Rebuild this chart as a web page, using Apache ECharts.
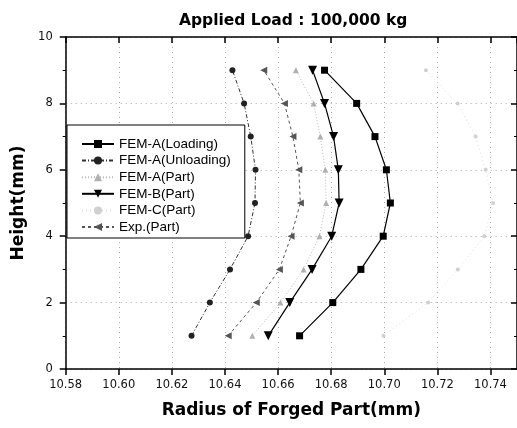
<!DOCTYPE html>
<html>
<head>
<meta charset="utf-8">
<script src="https://cdn.jsdelivr.net/npm/echarts@6/dist/echarts.min.js"></script>
<style>html,body{margin:0;padding:0;background:#fff}#c{width:517px;height:428px}</style>
</head>
<body>
<div id="c"></div>
<script>
const heights = [1, 2, 3, 4, 5, 6, 7, 8, 9];
const femALoading   = [10.6681, 10.6806, 10.6912, 10.6996, 10.7023, 10.7008, 10.6965, 10.6896, 10.6775];
const femAUnloading = [10.6274, 10.6343, 10.6419, 10.6487, 10.6513, 10.6515, 10.6497, 10.6472, 10.6428];
const femAPart      = [10.6503, 10.6609, 10.6696, 10.6756, 10.6781, 10.6778, 10.6759, 10.6734, 10.6667];
const femBPart      = [10.6563, 10.6644, 10.6728, 10.6802, 10.6830, 10.6827, 10.6809, 10.6775, 10.6730];
const femCPart      = [10.6997, 10.7165, 10.7277, 10.7377, 10.7410, 10.7382, 10.7344, 10.7276, 10.7157];
const expPart       = [10.6412, 10.6518, 10.6605, 10.6649, 10.6684, 10.6678, 10.6656, 10.6624, 10.6546];
const xTickLabels = ['10.58','10.60','10.62','10.64','10.66','10.68','10.70','10.72','10.74'];
const yTickLabels = ['0','2','4','6','8','10'];

const pairs = arr => arr.map((x, i) => [x, heights[i]]);
const FONT = 'Liberation Sans, Arial, sans-serif';
const BOLD = 'DejaVu Sans, sans-serif';
const TICKF = 'DejaVu Sans, sans-serif';

const chart = echarts.init(document.getElementById('c'), null, {renderer: 'canvas'});
const gridLine = {show: true, lineStyle: {color: '#aaa', type: [1, 4], width: 1}};
const option = {
  animation: false,
  backgroundColor: '#fff',
  title: {
    text: 'Applied Load : 100,000 kg',
    left: 174, top: 8,
    textStyle: {fontFamily: BOLD, fontWeight: 'bold', fontSize: 15.5, color: '#000'}
  },
  grid: {left: 65.7, right: -3, top: 37, bottom: 59, containLabel: false},
  legend: {
    orient: 'vertical',
    left: 67, top: 125,
    padding: [12, 14, 4, 14],
    itemWidth: 32, itemHeight: 10, itemGap: 2.6,
    backgroundColor: '#fff',
    borderColor: '#000', borderWidth: 1,
    textStyle: {fontFamily: FONT, fontSize: 13.5, color: '#000'},
    data: ['FEM-A(Loading)', 'FEM-A(Unloading)', 'FEM-A(Part)', 'FEM-B(Part)', 'FEM-C(Part)', 'Exp.(Part)']
  },
  xAxis: [{
    type: 'value', position: 'bottom', min: 10.58, max: 10.75, interval: 0.02,
    name: 'Radius of Forged Part(mm)', nameLocation: 'middle', nameGap: 33,
    nameTextStyle: {fontFamily: BOLD, fontWeight: 'bold', fontSize: 17, color: '#000'},
    axisLine: {onZero: false, lineStyle: {color: '#000', width: 1.5}},
    axisTick: {inside: false, length: 6, lineStyle: {color: '#000', width: 1.5}},
    axisLabel: {
      showMaxLabel: false, fontFamily: TICKF, fontSize: 11.5, color: '#111', margin: 10,
      formatter: v => { const i = Math.round((v - 10.58) / 0.02); return xTickLabels[i] || ''; }
    },
    splitLine: gridLine
  }, {
    type: 'value', position: 'top', min: 10.58, max: 10.75, interval: 0.02,
    axisLine: {onZero: false, lineStyle: {color: '#000', width: 1.5}},
    axisTick: {inside: true, length: 6, lineStyle: {color: '#000', width: 1.5}},
    axisLabel: {show: false},
    splitLine: {show: false}
  }],
  yAxis: [{
    type: 'value', position: 'left', min: 0, max: 10, interval: 2,
    name: 'Height(mm)', nameLocation: 'middle', nameGap: 34, nameRotate: 90,
    nameTextStyle: {fontFamily: BOLD, fontWeight: 'bold', fontSize: 17, color: '#000'},
    axisLine: {onZero: false, lineStyle: {color: '#000', width: 1.5}},
    axisTick: {inside: false, length: 6, lineStyle: {color: '#000', width: 1.5}},
    minorTick: {show: true, splitNumber: 2, length: 3, lineStyle: {color: '#000', width: 1}},
    axisLabel: {
      fontFamily: TICKF, fontSize: 11.5, color: '#111', margin: 13,
      formatter: v => yTickLabels[Math.round(v / 2)] || ''
    },
    splitLine: gridLine
  }, {
    type: 'value', position: 'right', min: 0, max: 10, interval: 2,
    axisLine: {onZero: false, lineStyle: {color: '#000', width: 1.5}},
    axisTick: {inside: true, length: 6, lineStyle: {color: '#000', width: 1.5}},
    minorTick: {show: true, splitNumber: 2, length: 3, lineStyle: {color: '#000', width: 1}},
    axisLabel: {show: false},
    splitLine: {show: false}
  }],
  series: [
    {
      name: 'FEM-C(Part)', type: 'line', data: pairs(femCPart),
      symbol: 'circle', symbolSize: 4,
      itemStyle: {color: '#d0d0d0'},
      lineStyle: {color: '#e0e0e0', width: 1, type: [1, 3]}, z: 2
    },
    {
      name: 'FEM-A(Part)', type: 'line', data: pairs(femAPart),
      symbol: 'triangle', symbolSize: 6,
      itemStyle: {color: '#b0b0b0'},
      lineStyle: {color: '#bbb', width: 1, type: [1, 2]}, z: 3
    },
    {
      name: 'Exp.(Part)', type: 'line', data: pairs(expPart),
      symbol: 'triangle', symbolSize: 7, symbolRotate: 90,
      itemStyle: {color: '#555'},
      lineStyle: {color: '#555', width: 1, type: [3, 3]}, z: 4
    },
    {
      name: 'FEM-A(Unloading)', type: 'line', data: pairs(femAUnloading),
      symbol: 'circle', symbolSize: 6,
      itemStyle: {color: '#222'},
      lineStyle: {color: '#333', width: 1, type: [4, 2, 1, 2]}, z: 5
    },
    {
      name: 'FEM-B(Part)', type: 'line', data: pairs(femBPart),
      symbol: 'triangle', symbolSize: 9, symbolRotate: 180,
      itemStyle: {color: '#000'},
      lineStyle: {color: '#000', width: 1.2}, z: 6
    },
    {
      name: 'FEM-A(Loading)', type: 'line', data: pairs(femALoading),
      symbol: 'rect', symbolSize: 7,
      itemStyle: {color: '#000'},
      lineStyle: {color: '#000', width: 1.2}, z: 7
    }
  ]
};
chart.setOption(option);
</script>
</body>
</html>
